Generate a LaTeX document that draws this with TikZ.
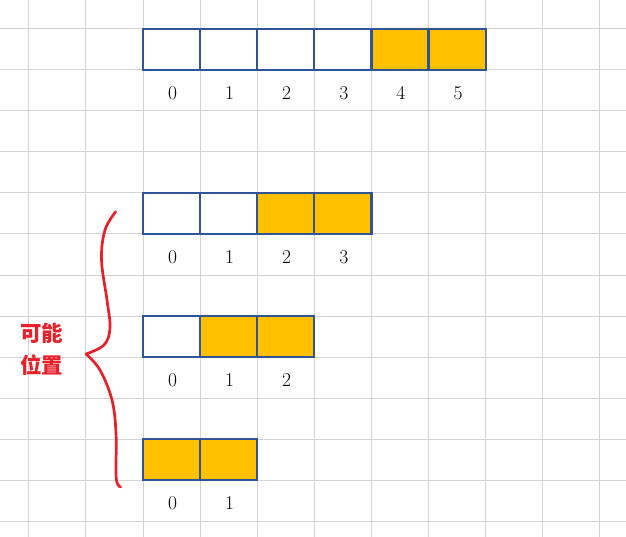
\documentclass[tikz,border=0pt]{standalone}
\usepackage{fontspec}
\newfontfamily\cjk{Noto Sans CJK SC}
\definecolor{gridgray}{HTML}{D4D4D4}
\definecolor{cellblue}{HTML}{2F5597}
\definecolor{cellorange}{HTML}{FFC000}
\definecolor{bracered}{HTML}{E8202A}
\tikzset{
  cell/.style={draw=cellblue, line width=2.2pt, minimum width=57.1pt, minimum height=41pt, inner sep=0pt, outer sep=0pt, anchor=north west},
  fullcell/.style={cell, fill=cellorange},
  idx/.style={font=\fontsize{19.5}{19.5}\selectfont, inner sep=0pt},
  gridline/.style={draw=gridgray, line width=1pt},
  bracelabel/.style={font=\cjk\bfseries\fontsize{21.5}{32}\selectfont, text=bracered, align=center, inner sep=0pt}
}
\begin{document}
\begin{tikzpicture}[x=1pt,y=-1pt]
\useasboundingbox (0,0) rectangle (626,537);
% grid
\foreach \k in {0,...,10} { \draw[gridline] (28.8+57.1*\k,0) -- (28.8+57.1*\k,537); }
\foreach \k in {0,...,12} { \draw[gridline] (0,29+41*\k) -- (626,29+41*\k); }
% row 1 (y 29)
\foreach \i in {0,...,5} {
  \ifnum\i<4 \node[cell] (a\i) at (143+57.1*\i,29) {};
  \else \node[fullcell] (a\i) at (143+57.1*\i,29) {}; \fi
  \node[idx] (la\i) at (172.5+57.1*\i,93) {\i};
}
% row 2 (y 193)
\foreach \i in {0,...,3} {
  \ifnum\i<2 \node[cell] (b\i) at (143+57.1*\i,193) {};
  \else \node[fullcell] (b\i) at (143+57.1*\i,193) {}; \fi
  \node[idx] (lb\i) at (172.5+57.1*\i,257) {\i};
}
% row 3 (y 316)
\foreach \i in {0,...,2} {
  \ifnum\i<1 \node[cell] (c\i) at (143+57.1*\i,316) {};
  \else \node[fullcell] (c\i) at (143+57.1*\i,316) {}; \fi
  \node[idx] (lc\i) at (172.5+57.1*\i,380) {\i};
}
% row 4 (y 439)
\foreach \i in {0,...,1} {
  \node[fullcell] (d\i) at (143+57.1*\i,439) {};
  \node[idx] (ld\i) at (172.5+57.1*\i,503) {\i};
}
% brace
\draw[bracered, line width=2.7pt, line cap=round, line join=round]
  plot[smooth, tension=0.6] coordinates {(115.7,211.7) (105,230) (101.5,260) (107,300) (110,328) (104,345) (86,354)};
\draw[bracered, line width=2.7pt, line cap=round, line join=round]
  plot[smooth, tension=0.6] coordinates {(86,354) (100,370) (112,400) (116,433) (116,473) (117.5,484) (120.7,487)};
\node[bracelabel] (lbl) at (41.5,349) {可能\\位置};
\end{tikzpicture}
\end{document}
